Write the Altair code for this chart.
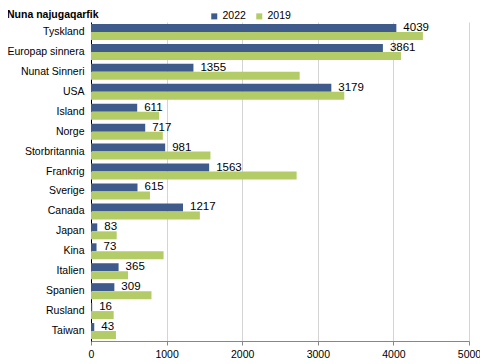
import altair as alt
import pandas as pd

countries = ["Tyskland", "Europap sinnera", "Nunat Sinneri", "USA", "Island", "Norge",
             "Storbritannia", "Frankrig", "Sverige", "Canada", "Japan", "Kina",
             "Italien", "Spanien", "Rusland", "Taiwan"]
values_2022 = [4039, 3861, 1355, 3179, 611, 717, 981, 1563, 615, 1217, 83, 73, 365, 309, 16, 43]
values_2019 = [4390, 4100, 2760, 3350, 900, 950, 1580, 2720, 780, 1440, 340, 960, 490, 800, 300, 330]
years = ["2022", "2019"]
x_ticks = [0, 500, 1000, 1500, 2000, 2500, 3000, 3500, 4000, 4500, 5000]
title_text = "Nuna najugaqarfik"

rows = []
for c, v22, v19 in zip(countries, values_2022, values_2019):
    rows.append({"land": c, "aar": "2022", "val": v22})
    rows.append({"land": c, "aar": "2019", "val": v19})
df = pd.DataFrame(rows)

FONT = "Liberation Sans"
BLUE = "#3e5b8b"
GREEN = "#b3cc67"

y_enc = alt.Y("land:N", sort=countries, title=None,
              scale=alt.Scale(paddingInner=0.2, paddingOuter=0.1),
              axis=alt.Axis(ticks=False, domainColor="#000000", labelFontSize=10.5,
                            labelColor="#000000", labelPadding=7, labelFont=FONT))
x_enc = alt.X("val:Q", title=None,
              scale=alt.Scale(domain=[0, 5000], nice=False),
              axis=alt.Axis(values=x_ticks, format="d", grid=True, gridColor="#d4d4d4",
                            domainColor="#878787", tickColor="#878787", tickSize=4,
                            labelFontSize=10.5, labelColor="#000000", labelPadding=4,
                            labelFont=FONT, labelFlush=False))

bars = alt.Chart(df).mark_bar().encode(
    y=y_enc,
    x=x_enc,
    yOffset=alt.YOffset("aar:N", sort=years),
    color=alt.Color("aar:N", sort=years,
                    scale=alt.Scale(domain=years, range=[BLUE, GREEN]),
                    legend=alt.Legend(title=None, orient="none", direction="horizontal",
                                      legendX=118, legendY=-11, symbolType="square",
                                      symbolSize=36, symbolStrokeWidth=0,
                                      labelFontSize=10.5, labelFont=FONT,
                                      labelColor="#000000", columnPadding=8,
                                      labelOffset=3)),
)

labels = alt.Chart(df[df["aar"] == "2022"]).mark_text(
    align="left", baseline="middle", dx=7, fontSize=11.5, font=FONT, color="#000000"
).encode(
    y=alt.Y("land:N", sort=countries),
    x="val:Q",
    yOffset=alt.YOffset("aar:N", sort=years),
    text="val:Q",
)

title = alt.Chart(pd.DataFrame({"t": [title_text]})).mark_text(
    align="left", baseline="middle", fontSize=10.5, fontWeight="bold", font=FONT,
    color="#000000"
).encode(text="t:N", x=alt.value(-84), y=alt.value(-7))

chart = alt.layer(bars, labels, title).properties(
    width=378, height=319,
    autosize=alt.AutoSizeParams(type="none"),
    padding={"left": 83, "top": 14, "right": 11, "bottom": 20},
).configure_view(stroke=None).configure_scale(offsetBandPaddingInner=0)

chart.save("out.html", embed_options={"renderer": "svg", "actions": False})
